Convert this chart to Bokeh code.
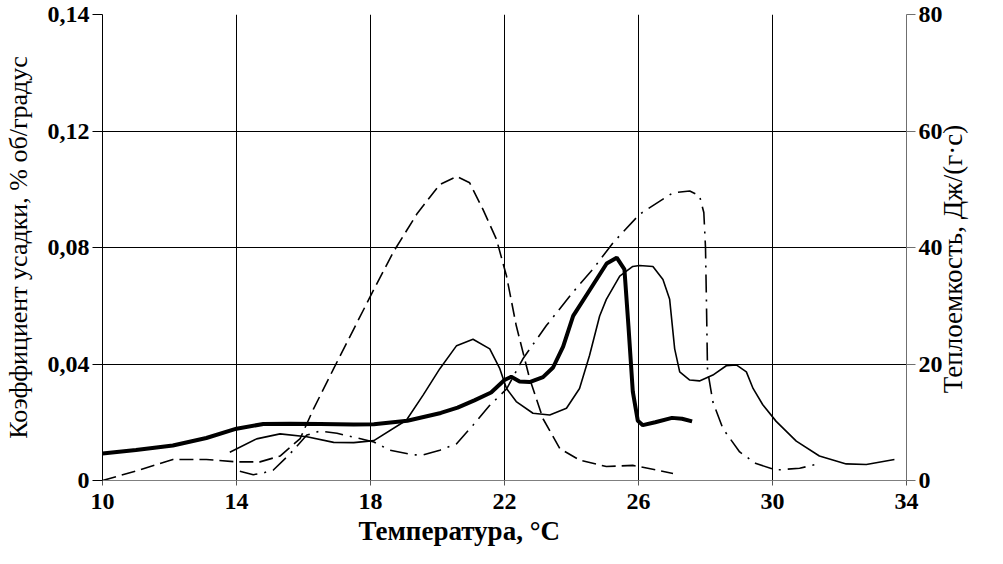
from bokeh.plotting import figure
from bokeh.models import Range1d, LinearAxis, FixedTicker, Title
from bokeh.embed import file_html
from bokeh.resources import INLINE
import math

# ---- data ----
x_ticks = [10, 14, 18, 22, 26, 30, 34]
left_ticks = [0, 0.04, 0.08, 0.12, 0.16]
left_tick_labels = ["0", "0,04", "0,08", "0,12", "0,14"]
right_ticks = [0, 20, 40, 60, 80]

x_title = "Температура, °C"
left_title = "Коэффициент усадки, % об/градус"
right_title = "Теплоемкость, Дж/(г·с)"

# thick solid – shrinkage coefficient, % vol / degree
t_thick = [10.0, 11.0, 12.1, 13.1, 14.0, 14.8, 15.6, 16.5, 17.5, 18.1, 19.1, 20.1, 20.6,
           21.1, 21.6, 22.0, 22.2, 22.45, 22.75, 23.15, 23.45, 23.75, 24.05, 24.55, 25.05,
           25.35, 25.58, 25.7, 25.83, 25.98, 26.13, 26.5, 27.0, 27.3, 27.6]
v_thick = [0.0093, 0.0105, 0.0120, 0.0146, 0.0178, 0.0194, 0.0195, 0.0194, 0.0192, 0.0193,
           0.0205, 0.0232, 0.0250, 0.0275, 0.0302, 0.0345, 0.0356, 0.0340, 0.0338, 0.0355,
           0.0388, 0.0460, 0.0565, 0.0655, 0.0745, 0.0765, 0.0725, 0.0530, 0.0305, 0.0205,
           0.0190, 0.0200, 0.0215, 0.0212, 0.0203]

# thin solid – shrinkage coefficient, % vol / degree
t_thin = [13.8, 14.6, 15.3, 16.1, 16.9, 17.5, 18.1, 19.07, 19.57, 20.07, 20.57, 21.06, 21.56,
          21.86, 22.06, 22.35, 22.85, 23.35, 23.85, 24.24, 24.54, 24.84, 25.04, 25.44, 25.83,
          26.03, 26.43, 26.73, 26.93, 27.08, 27.23, 27.53, 27.82, 28.22, 28.62, 28.92, 29.22,
          29.42, 29.71, 30.11, 30.71, 31.4, 32.2, 32.8, 33.64]
v_thin = [0.0097, 0.0143, 0.0160, 0.0150, 0.0131, 0.0130, 0.0137, 0.0207, 0.0293, 0.0384,
          0.0463, 0.0485, 0.0452, 0.0384, 0.0316, 0.0271, 0.0231, 0.0225, 0.0248, 0.0316,
          0.0430, 0.0565, 0.0622, 0.0702, 0.0735, 0.0738, 0.0735, 0.0690, 0.0622, 0.0452,
          0.0373, 0.0345, 0.0342, 0.0362, 0.0394, 0.0397, 0.0373, 0.0316, 0.0260, 0.0203,
          0.0135, 0.0084, 0.0057, 0.0055, 0.0072]

# long dashes – heat capacity, J/(g*s)
t_dash = [10.0, 11.1, 12.1, 13.1, 14.0, 14.7, 15.3, 15.9, 16.3, 16.9, 17.5, 18.1, 18.7,
          19.4, 20.07, 20.57, 20.96, 21.36, 21.76, 22.06, 22.35, 22.75, 23.15, 23.65, 24.24,
          25.04, 25.83, 26.53, 27.03]
c_dash = [0.0, 1.8, 3.6, 3.6, 3.2, 3.2, 4.2, 7.2, 12.3, 19.2, 26.0, 32.8, 39.4, 45.9, 50.8,
          52.2, 51.1, 46.5, 41.4, 35.1, 26.6, 17.5, 10.6, 5.5, 3.5, 2.4, 2.6, 1.8, 1.2]

# dash-dot – heat capacity, J/(g*s)
t_dashdot = [14.1, 14.5, 14.8, 15.1, 15.6, 16.1, 16.5, 17.0, 17.6, 18.1, 18.58, 19.27, 19.57,
             20.07, 20.57, 21.06, 21.56, 22.06, 22.55, 23.25, 24.04, 24.64, 25.24, 26.03,
             27.03, 27.53, 27.82, 27.95, 28.0, 28.03, 28.06, 28.22, 28.52, 29.02, 29.51,
             30.11, 30.81, 31.4]
c_dashdot = [1.6, 1.0, 1.3, 1.8, 4.6, 7.8, 8.5, 8.1, 7.3, 6.6, 5.2, 4.4, 4.4, 5.2, 6.3, 9.5,
             12.9, 15.7, 20.9, 26.6, 32.3, 36.3, 40.8, 45.7, 49.4, 49.7, 48.9, 46.0, 40.0,
             30.0, 19.0, 13.5, 8.9, 4.9, 2.9, 1.8, 2.1, 2.9]

# ---- figure ----
FONT = "Liberation Serif"

p = figure(width=987, height=548, output_backend="svg", toolbar_location=None,
           x_range=Range1d(10, 34), y_range=Range1d(0, 0.16),
           min_border_left=101, min_border_right=81, min_border_top=14,
           min_border_bottom=66)
p.outline_line_color = None
p.background_fill_color = "white"
p.border_fill_color = "white"

p.extra_y_ranges = {"cap": Range1d(0, 80)}
right_axis = LinearAxis(y_range_name="cap", ticker=FixedTicker(ticks=right_ticks))
p.add_layout(right_axis, "right")

p.xaxis.ticker = FixedTicker(ticks=x_ticks)
p.yaxis[0].ticker = FixedTicker(ticks=left_ticks)
p.yaxis[0].major_label_overrides = {t: s for t, s in zip(left_ticks, left_tick_labels)}
p.xgrid.ticker = FixedTicker(ticks=x_ticks)
p.ygrid.ticker = FixedTicker(ticks=left_ticks)

for g in (p.xgrid, p.ygrid):
    g.grid_line_color = "black"
    g.grid_line_width = 1
    g.grid_line_alpha = 1.0

for ax in (p.xaxis[0], p.yaxis[0], right_axis):
    ax.major_label_text_font = FONT
    ax.major_label_text_font_style = "bold"
    ax.major_label_text_font_size = "24px"
    ax.major_label_text_color = "black"
    ax.minor_tick_line_color = None
    ax.major_tick_in = 0
    ax.major_tick_line_width = 1
    ax.axis_label_text_font = FONT
    ax.axis_label_text_font_style = "normal"
    ax.axis_label_text_font_size = "26px"
    ax.axis_label_text_color = "black"

p.xaxis.axis_line_color = "#7f7f7f"
p.xaxis.major_tick_line_color = "#555555"
p.xaxis.major_tick_out = 5
p.xaxis.major_label_standoff = 8

p.yaxis[0].axis_line_color = "black"
p.yaxis[0].major_tick_line_color = "black"
p.yaxis[0].major_tick_out = 10
p.yaxis[0].major_label_standoff = 3
p.yaxis[0].axis_label = left_title
p.yaxis[0].axis_label_standoff = 12

right_axis.axis_line_color = "#6f6f6f"
right_axis.major_tick_line_color = "#6f6f6f"
right_axis.major_tick_out = 9
right_axis.major_label_standoff = 3

# x title, placed left of centre like the reference
p.add_layout(Title(text=x_title, align="left", offset=256, standoff=5,
                   text_font=FONT, text_font_style="bold", text_font_size="27px",
                   text_color="black"), "below")

# right title: a helper axis whose single label reads bottom to top,
# starting at the given height (in heat-capacity units)
RIGHT_TITLE_START = 15.0
rt = LinearAxis(y_range_name="cap", ticker=FixedTicker(ticks=[RIGHT_TITLE_START]))
rt.major_label_overrides = {RIGHT_TITLE_START: right_title}
rt.major_label_orientation = math.pi / 2
rt.axis_line_color = None
rt.major_tick_line_color = None
rt.minor_tick_line_color = None
rt.major_tick_out = 0
rt.major_tick_in = 0
rt.major_label_standoff = 7
rt.major_label_text_font = FONT
rt.major_label_text_font_size = "27px"
rt.major_label_text_font_style = "normal"
rt.major_label_text_color = "black"
p.add_layout(rt, "right")

# ---- curves ----
p.line(t_dash, c_dash, y_range_name="cap", line_color="black", line_width=1.6,
       line_dash="14 6")
p.line(t_dashdot, c_dashdot, y_range_name="cap", line_color="black", line_width=1.6,
       line_dash="18 7 2 7")
p.line(t_thin, v_thin, line_color="black", line_width=1.6)
p.line(t_thick, v_thick, line_color="black", line_width=4)

open("out.html", "w").write(file_html(p, INLINE))
